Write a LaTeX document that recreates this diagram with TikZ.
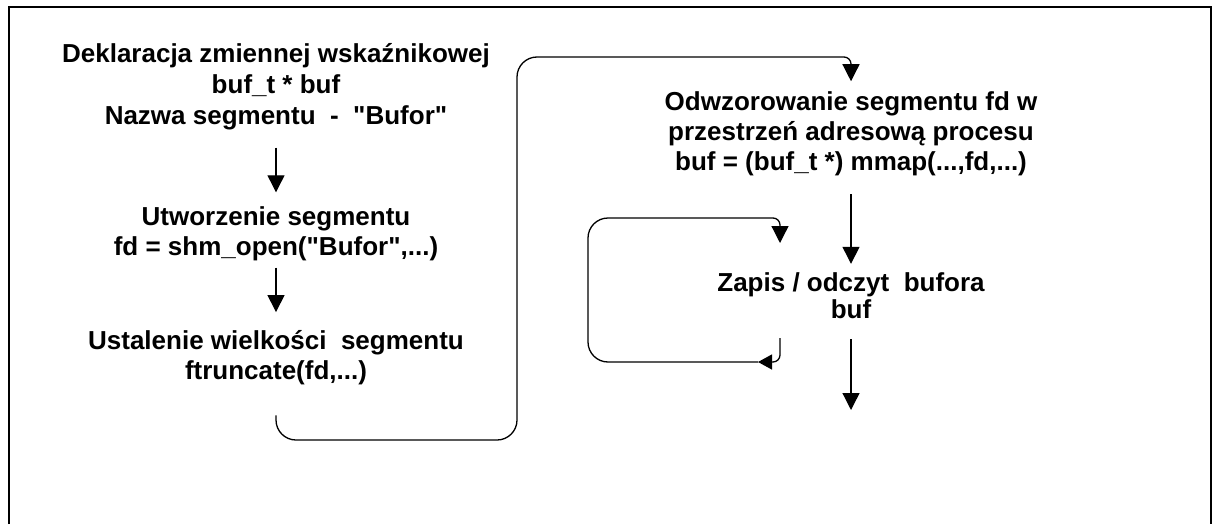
\documentclass[tikz,border=0pt]{standalone}
\usepackage{fontspec}
\setmainfont{Liberation Sans}
\usetikzlibrary{arrows.meta,positioning}

\begin{document}
\begin{tikzpicture}[x=0.5pt,y=-0.5pt,->,>={Triangle[width=8.5pt,length=8.5pt]},
  line width=0.65pt,on grid,
  txt/.style={align=center,inner sep=0pt,font=\bfseries\fontsize{13}{15}\selectfont},
  mala/.style={-{Triangle[width=7.5pt,length=7pt]}}]
\useasboundingbox (0,0) rectangle (1213,524);
\draw[-,line width=1pt] (9,524) -- (9,7) -- (1211,7) -- (1211,524);

% lewa kolumna
\node[txt,font=\bfseries\fontsize{13}{15.5}\selectfont] (decl) at (276,86.25)
  {Deklaracja zmiennej wskaźnikowej\\ buf\_t * buf\\ Nazwa segmentu~ -~ \textquotedbl Bufor\textquotedbl};
\node[txt] (tworz) [below=73.6pt of decl] {Utworzenie segmentu\\ fd = shm\_open(\textquotedbl Bufor\textquotedbl,...)};
\node[txt] (rozm) [below=62.25pt of tworz] {Ustalenie wielkości~ segmentu\\ ftruncate(fd,...)};

% prawa kolumna
\node[txt] (odwz) at (851,134)
  {Odwzorowanie segmentu fd w\\ przestrzeń adresową procesu\\ buf = (buf\_t *) mmap(...,fd,...)};
\node[txt,font=\bfseries\fontsize{13}{13.5}\selectfont] (zapis) [below=80.75pt of odwz]
  {Zapis / odczyt~ bufora\\ buf};

\coordinate (wyjscie) at (851,410);
\coordinate (p1) at (780,338);
\coordinate (p2) at (758,362);
\coordinate (p3) at (780,243);

\path (decl) edge[shorten <=8.75pt,shorten >=6.7pt] (tworz)
      (tworz) edge[shorten <=3.25pt,shorten >=9pt] (rozm)
      (odwz) edge[shorten <=8.75pt,shorten >=4pt] (zapis)
      (zapis) edge[shorten <=10pt] (wyjscie);

% przejscie do drugiej kolumny
\draw[rounded corners=10pt] ([yshift=-14.75pt]rozm.south) |- (517,440) -- (517,57)
  -- (700,57) [rounded corners=3.5pt] -| ([yshift=5pt]odwz.north);

% petla
\draw[mala,rounded corners=3.5pt] (p1) |- (p2);
\draw[rounded corners=10pt] (p2) -- (588,362) -- (588,218) -- (700,218)
  [rounded corners=3.5pt] -| (p3);
\end{tikzpicture}
\end{document}
